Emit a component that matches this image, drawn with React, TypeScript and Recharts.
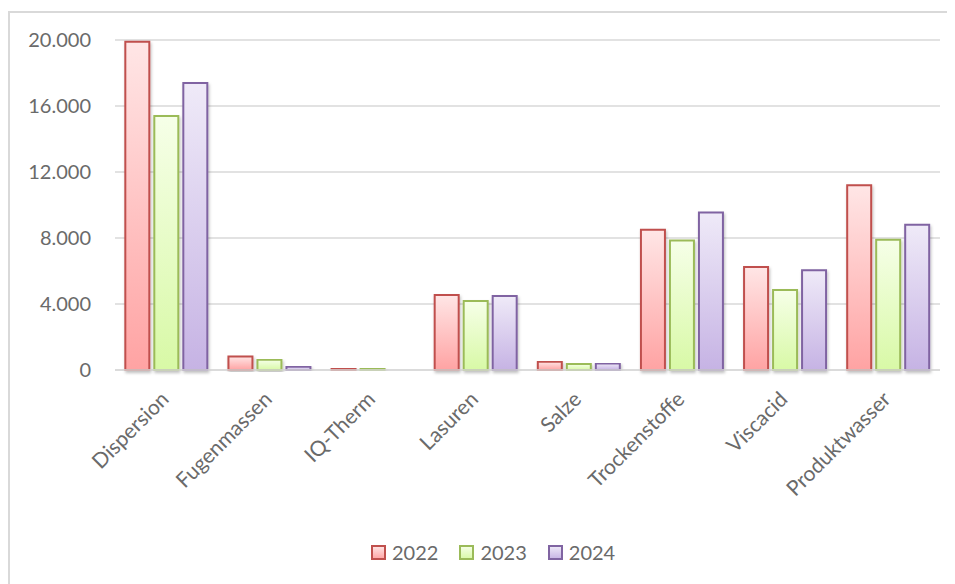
import React from "react";
import { BarChart, Bar, XAxis, YAxis, CartesianGrid } from "recharts";

const categories = ["Dispersion", "Fugenmassen", "IQ-Therm", "Lasuren", "Salze", "Trockenstoffe", "Viscacid", "Produktwasser"];
const values2022 = [19900, 820, 100, 4550, 500, 8500, 6250, 11200];
const values2023 = [15400, 620, 70, 4180, 360, 7850, 4850, 7900];
const values2024 = [17400, 190, 0, 4480, 390, 9550, 6050, 8800];
const yTicks = [0, 4000, 8000, 12000, 16000, 20000];
const seriesNames = ["2022", "2023", "2024"];

const data = categories.map((c, i) => ({
  name: c,
  "2022": values2022[i],
  "2023": values2023[i],
  "2024": values2024[i],
}));

const styles = [
  { stroke: "#c0504d", top: "#ffe6e6", bottom: "#ffa3a3", id: "g2022" },
  { stroke: "#9bbb59", top: "#f6ffe8", bottom: "#d8f9a6", id: "g2023" },
  { stroke: "#8064a2", top: "#efeaf8", bottom: "#c6b3e4", id: "g2024" },
];

const FONT = "Lato, 'Open Sans', sans-serif";
const TEXT = "#6a6a6a";

const fmt = (v: number) => v.toLocaleString("de-DE");

const XTick = (props: any) => {
  const { x, y, payload } = props;
  return (
    <g transform={`translate(${x - 7},${y + 12})`}>
      <text x={0} y={0} dy="0.71em" textAnchor="end" transform="rotate(-45)" fill={TEXT} fontSize={21} fontFamily={FONT}>
        {payload.value}
      </text>
    </g>
  );
};

const LegendBlock = () => (
  <div
    style={{
      position: "absolute",
      left: 361,
      top: 527,
      display: "flex",
      alignItems: "center",
      fontFamily: FONT,
      fontSize: 20,
      color: TEXT,
    }}
  >
    {seriesNames.map((n, i) => (
      <div key={n} style={{ display: "flex", alignItems: "center", marginRight: i < 2 ? 21 : 0 }}>
        <svg width={15} height={15} style={{ marginRight: 6 }}>
          <defs>
            <linearGradient id={`lg${i}`} x1="0" y1="0" x2="0" y2="1">
              <stop offset="0%" stopColor={styles[i].top} />
              <stop offset="100%" stopColor={styles[i].bottom} />
            </linearGradient>
          </defs>
          <rect x={1} y={1} width={13} height={13} fill={`url(#lg${i})`} stroke={styles[i].stroke} strokeWidth={2} />
        </svg>
        <span>{n}</span>
      </div>
    ))}
  </div>
);

export default function App() {
  return (
    <div
      style={{
        marginTop: 3,
        width: 947,
        height: 573,
        borderTop: "2px solid #d9d9d9",
        borderLeft: "2px solid #d9d9d9",
        boxSizing: "border-box",
        position: "relative",
        overflow: "hidden",
      }}
    >
      <BarChart
        width={945}
        height={571}
        data={data}
        margin={{ top: 27, right: 15, bottom: 0, left: 0 }}
        barCategoryGap="10%"
        barGap={5}
      >
        <defs>
          {styles.map((s) => (
            <linearGradient key={s.id} id={s.id} x1="0" y1="0" x2="0" y2="1">
              <stop offset="0%" stopColor={s.top} />
              <stop offset="100%" stopColor={s.bottom} />
            </linearGradient>
          ))}
          <filter id="shadow" x="-20%" y="-5%" width="140%" height="115%">
            <feDropShadow dx="1" dy="2" stdDeviation="1.5" floodColor="#000" floodOpacity="0.25" />
          </filter>
        </defs>
        <CartesianGrid vertical={false} stroke="#d9d9d9" strokeWidth={1.5} />
        <XAxis
          dataKey="name"
          interval={0}
          tickLine={false}
          axisLine={{ stroke: "#d9d9d9", strokeWidth: 1.5 }}
          tick={<XTick />}
          height={214}
        />
        <YAxis
          width={105}
          domain={[0, 20000]}
          ticks={yTicks}
          tickFormatter={fmt}
          axisLine={false}
          tickLine={false}
          tickMargin={18}
          tick={{ fill: TEXT, fontSize: 20, fontFamily: FONT }}
        />
        {seriesNames.map((n, i) => (
          <Bar
            key={n}
            dataKey={n}
            fill={`url(#${styles[i].id})`}
            stroke={styles[i].stroke}
            strokeWidth={2}
            filter="url(#shadow)"
            isAnimationActive={false}
          />
        ))}
      </BarChart>
      <LegendBlock />
    </div>
  );
}
